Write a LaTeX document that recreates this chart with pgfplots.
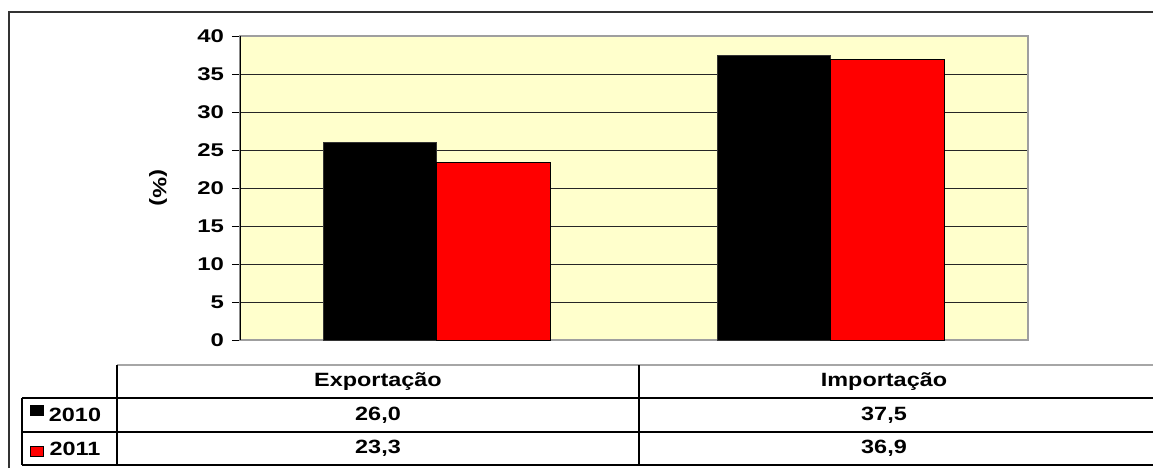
\documentclass[border=0pt]{standalone}
\usepackage{fontspec}
\setmainfont{Liberation Sans}
\usepackage{graphicx}
\usepackage{pgfplots}
\pgfplotsset{compat=1.18}
\definecolor{bgyellow}{HTML}{FFFFCC}
\definecolor{barred}{HTML}{FF0000}
\newcommand{\sx}[1]{\scalebox{1.22}[1]{#1}}
\newcommand{\tk}[1]{\scalebox{1.3}[1]{#1}}
\begin{document}
\begin{tikzpicture}
\useasboundingbox (0,0) rectangle (576.5pt,-234pt);
\begin{axis}[
  at={(120pt,-170pt)}, anchor=south west,
  scale only axis, width=394pt, height=152pt,
  xmin=-0.5, xmax=1.5, ymin=0, ymax=40,
  ybar=0pt, bar width=0.2876,
  xtick=\empty,
  ytick={0,5,...,40},
  yticklabels={\tk{0},\tk{5},\tk{10},\tk{15},\tk{20},\tk{25},\tk{30},\tk{35},\tk{40}},
  yticklabel style={font=\fontsize{9.2}{10}\selectfont\bfseries, xshift=-0.5pt},
  ytick pos=left, tick align=outside, major tick length=4pt,
  ytick style={black, line width=0.5pt},
  ymajorgrids, grid style={black!85, line width=0.5pt},
  axis line style={draw=gray!75, line width=0.6pt},
  axis background/.style={fill=bgyellow},
  ylabel={\sx{(\%)}},
  ylabel style={at={(axis description cs:-0.104,0.5)}, anchor=center, rotate=180, font=\fontsize{9.6}{10}\selectfont\bfseries},
]
\addplot[fill=black, draw=black!80, line width=0.5pt] coordinates {(0,26.0) (1,37.5)};
\addplot[fill=barred, draw=black, line width=0.5pt] coordinates {(0,23.3) (1,36.9)};
\draw[black, line width=0.6pt] (rel axis cs:0,0) -- (rel axis cs:0,1);
\end{axis}
\begin{scope}[x=0.5pt, y=-0.5pt]
  % outer frame
  \draw[black!80, line width=0.8pt] (9,468) -- (9,12) -- (1153,12);
  % table
  \draw[gray!70, line width=0.8pt] (117,365) -- (1153,365);
  \draw[black, line width=0.6pt] (22,398) -- (1153,398);
  \draw[black, line width=0.6pt] (22,432) -- (1153,432);
  \draw[black, line width=0.6pt] (22,465) -- (1153,465);
  \draw[black, line width=0.6pt] (117,365) -- (117,465);
  \draw[black, line width=0.6pt] (22,398) -- (22,465);
  \draw[black, line width=0.6pt] (639,365) -- (639,465);
  \begin{scope}[every node/.style={font=\fontsize{9.6}{10}\selectfont\bfseries, inner sep=0pt, anchor=center}]
    \node at (378,381.5) {\sx{Exportação}};
    \node at (884,381.5) {\sx{Importação}};
    \node at (378,415) {\sx{26,0}};
    \node at (884,415) {\sx{37,5}};
    \node at (378,448.5) {\sx{23,3}};
    \node at (884,448.5) {\sx{36,9}};
    \node at (75,415) {\sx{2010}};
    \node at (75,448.5) {\sx{2011}};
  \end{scope}
  \fill[black] (30,405) rectangle (44,416);
  \filldraw[fill=barred, draw=black, line width=0.5pt] (30.5,446) rectangle (43.5,456);
\end{scope}
\end{tikzpicture}
\end{document}
